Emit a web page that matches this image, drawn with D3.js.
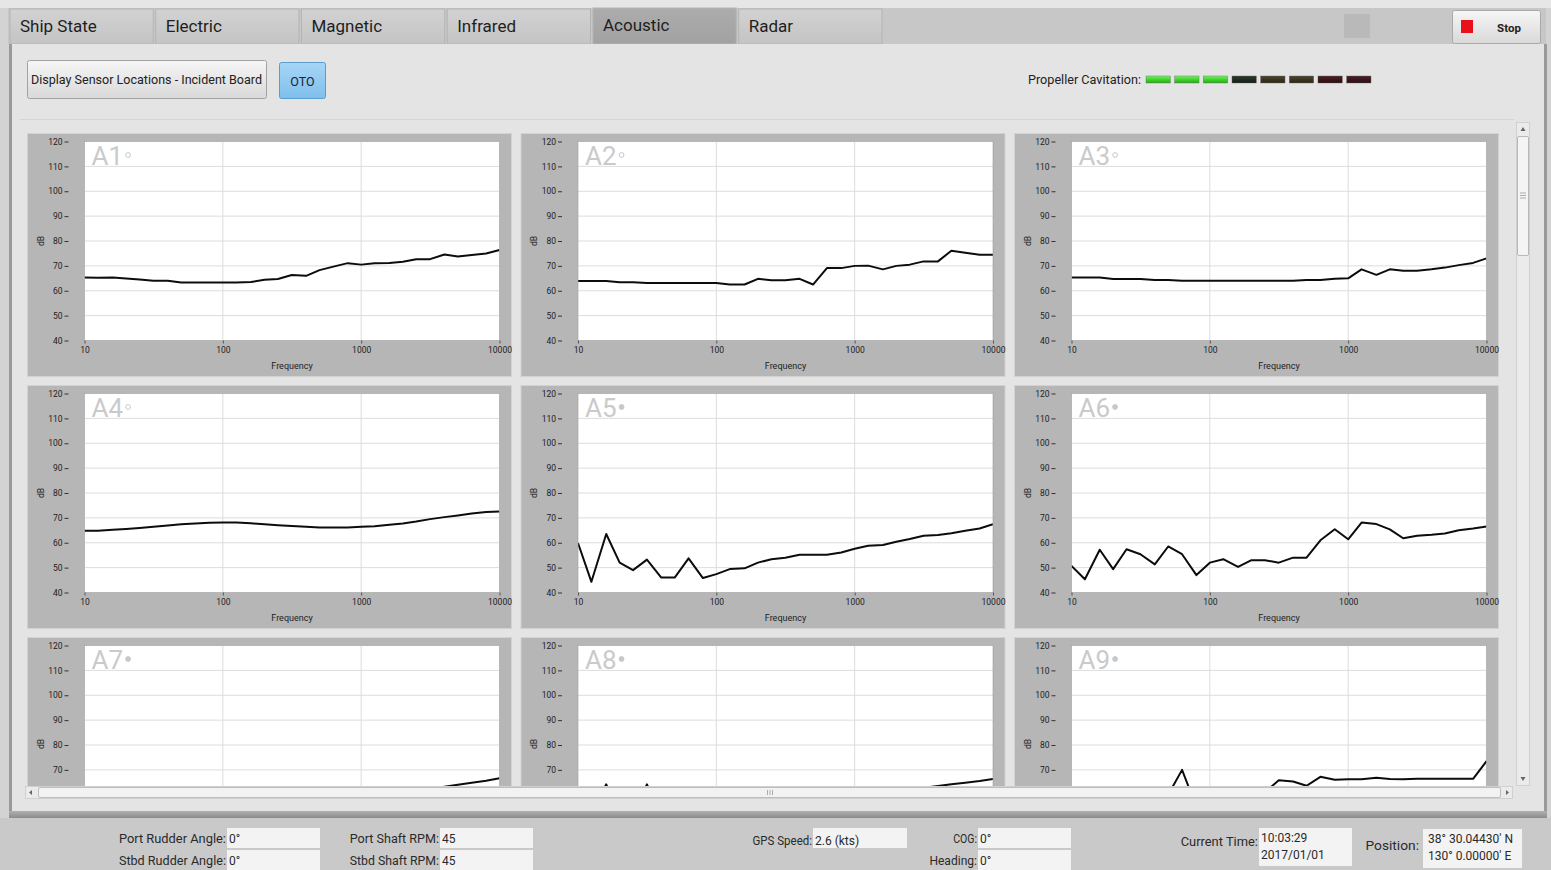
<!DOCTYPE html>
<html><head><meta charset="utf-8">
<script src="https://cdn.jsdelivr.net/npm/d3@7"></script>
<style>
html,body{margin:0;padding:0;background:#d3d3d3;overflow:hidden}
svg{display:block}
text{font-family:Roboto,"Noto Sans",sans-serif}
</style></head><body>
<svg id="ui" width="1551" height="870"></svg>
<script>
// ---------------- DATA ----------------
const bands = [10,12.5,16,20,25,31.5,40,50,63,80,100,125,160,200,250,315,400,500,630,800,1000,1250,1600,2000,2500,3150,4000,5000,6300,8000,10000];
const sensorNames = ["A1","A2","A3","A4","A5","A6","A7","A8","A9"];
const sensorFilled = [false,false,false,false,true,true,true,true,true];
const dbA1 = [65.3,65.2,65.3,64.9,64.5,64,64,63.3,63.3,63.3,63.3,63.3,63.5,64.4,64.7,66.3,66,68.3,69.7,71.1,70.5,71.1,71.2,71.7,72.7,72.7,74.6,73.8,74.4,75,76.4];
const dbA2 = [63.9,63.9,63.9,63.4,63.4,63.1,63.1,63.1,63.1,63.1,63.1,62.5,62.5,64.8,64.2,64.2,64.8,62.5,69.1,69.1,70,70.1,68.6,70,70.5,71.8,71.8,76.1,75.3,74.5,74.5];
const dbA3 = [65.3,65.3,65.3,64.7,64.7,64.7,64.3,64.3,64,64,64,64,64,64,64,64,64,64.3,64.3,64.8,65,68.6,66.4,68.6,68,68,68.6,69.3,70.3,71.2,73];
const dbA4 = [64.8,64.8,65.2,65.5,65.9,66.4,66.9,67.4,67.7,68,68.1,68.1,67.8,67.4,67,66.7,66.4,66.1,66.1,66.1,66.4,66.6,67.2,67.7,68.5,69.5,70.3,71,71.8,72.4,72.6];
const dbA5 = [59.9,44.3,63.5,52,49,53.2,46,46,53.7,45.8,47.4,49.4,49.7,52,53.4,54,55.2,55.2,55.2,56.1,57.6,58.8,59.1,60.4,61.5,62.8,63.1,63.8,64.8,65.7,67.5];
const dbA6 = [50.7,45.3,57.2,49.4,57.4,55.4,51.3,58.5,55.4,47,52,53.4,50.3,53,53,52,54,54,61,65.4,61.4,68.1,67.5,65.4,61.8,62.8,63.2,63.7,65,65.7,66.5];
const dbA7 = [55,52,57,54,53,55,52,53,54,52,53,54,54,55,55,56,56,57,58,58,59,60,60,61,61.5,62.3,63.2,64,64.8,65.6,66.6];
const dbA8 = [55,52,64.2,50,52,64.2,50,52,54,51,52,53,54,55,55,56,56,57,57.5,58,59,59.5,60,60.5,61.5,62.8,63.5,64.2,64.8,65.5,66.3];
const dbA9 = [52,48,55,50,56,54,52,60,70,55,56,57,55,58,61,65.8,65.3,63.6,67.2,66,66.2,66.2,66.8,66.3,66.2,66.4,66.4,66.4,66.4,66.4,73.5];
const sensorData = [dbA1,dbA2,dbA3,dbA4,dbA5,dbA6,dbA7,dbA8,dbA9];
const yTicks = [40,50,60,70,80,90,100,110,120];
const xTicks = [10,100,1000,10000];
const tabNames = ["Ship State","Electric","Magnetic","Infrared","Acoustic","Radar"];
const selectedTab = "Acoustic";
const cavitationStates = ["on","on","on","off","warn","warn","alarm","alarm"];
const statusLabels = ["Port Rudder Angle:","Stbd Rudder Angle:","Port Shaft RPM:","Stbd Shaft RPM:","GPS Speed:","COG:","Heading:","Current Time:","Position:"];
const statusValues = [["0°"],["0°"],["45"],["45"],["2.6  (kts)"],["0°"],["0°"],["10:03:29","2017/01/01"],["38° 30.04430' N","130° 0.00000' E"]];

// ---------------- DRAW ----------------
const svg = d3.select("#ui");
const W = 1551, H = 870;
const defs = svg.append("defs");
function grad(id, stops){
  const g = defs.append("linearGradient").attr("id",id).attr("x1",0).attr("y1",0).attr("x2",0).attr("y2",1);
  stops.forEach(s=>g.append("stop").attr("offset",s[0]).attr("stop-color",s[1]));
}
grad("btn",[[0,"#f6f6f6"],[1,"#d9d9d9"]]);
grad("tab",[[0,"#d2d2d2"],[1,"#c4c4c4"]]);
grad("tabSel",[[0,"#acacac"],[1,"#a2a2a2"]]);
grad("oto",[[0,"#a6d6f6"],[1,"#7fbfec"]]);
grad("ledOn",[[0,"#7af06a"],[0.5,"#3fd42a"],[1,"#2aa81c"]]);
grad("ledOff",[[0,"#2e3a2e"],[1,"#141c14"]]);
grad("ledWarn",[[0,"#4c4430"],[1,"#2c2616"]]);
grad("ledAlarm",[[0,"#4a2228"],[1,"#2a0c10"]]);
grad("shadow",[[0,"#b0b0b0"],[1,"#8c8c8c"]]);

svg.append("rect").attr("width",W).attr("height",H).attr("fill","#d3d3d3");
svg.append("rect").attr("x",0).attr("y",0).attr("width",W).attr("height",8).attr("fill","#e6e6e6");
// tab bar
svg.append("rect").attr("x",8).attr("y",8).attr("width",1538).attr("height",36).attr("fill","#c7c7c7");
const tabX = d3.scaleBand().domain(tabNames).range([10,882]).paddingInner(0.017);
const tabs = svg.append("g").selectAll("g").data(tabNames).join("g");
tabs.append("rect")
  .attr("x",d=>tabX(d)).attr("y",d=>d===selectedTab?8:9)
  .attr("width",tabX.bandwidth()).attr("height",d=>d===selectedTab?36:35)
  .attr("fill",d=>d===selectedTab?"url(#tabSel)":"url(#tab)")
  .attr("stroke","#b4b4b4").attr("stroke-width",1);
tabs.append("text")
  .attr("x",d=>tabX(d)+10).attr("y",d=>d===selectedTab?31:32)
  .attr("font-size",17).attr("fill","#1e1e1e").text(d=>d);
// gray indicator square
svg.append("rect").attr("x",1344).attr("y",14).attr("width",26).attr("height",24).attr("fill","#b9b9b9");
// stop button
svg.append("rect").attr("x",1452.5).attr("y",10.5).attr("width",88).attr("height",33).attr("rx",2)
  .attr("fill","url(#btn)").attr("stroke","#a9a9a9");
svg.append("rect").attr("x",1461).attr("y",20).attr("width",12).attr("height",13).attr("fill","#e8101a");
svg.append("text").attr("x",1509).attr("y",32).attr("text-anchor","middle").attr("font-size",11.5)
  .attr("font-weight","bold").attr("fill","#222").text("Stop");

// main panel
svg.append("rect").attr("x",10).attr("y",44).attr("width",1536).attr("height",770).attr("fill","#e4e4e4");
svg.append("rect").attr("x",9).attr("y",44).attr("width",3).attr("height",772).attr("fill","#9a9a9a");
svg.append("rect").attr("x",1544).attr("y",44).attr("width",3).attr("height",772).attr("fill","#9a9a9a");
svg.append("rect").attr("x",9).attr("y",811).attr("width",1538).attr("height",7).attr("fill","url(#shadow)");

// buttons
svg.append("rect").attr("x",27.5).attr("y",60.5).attr("width",239).attr("height",38).attr("rx",2)
  .attr("fill","url(#btn)").attr("stroke","#a2a2a2");
svg.append("text").attr("x",31).attr("y",84).attr("font-size",13).attr("fill","#222")
  .attr("textLength",231).attr("lengthAdjust","spacingAndGlyphs")
  .text("Display Sensor Locations - Incident Board");
svg.append("rect").attr("x",279.5).attr("y",62.5).attr("width",46).attr("height",36).attr("rx",2)
  .attr("fill","url(#oto)").attr("stroke","#5a9ccc");
svg.append("text").attr("x",302.5).attr("y",86).attr("text-anchor","middle").attr("font-size",12.5)
  .attr("fill","#223").text("OTO");

// propeller cavitation
svg.append("text").attr("x",1141).attr("y",84).attr("text-anchor","end").attr("font-size",12.5)
  .attr("fill","#222").attr("textLength",113).attr("lengthAdjust","spacingAndGlyphs").text("Propeller Cavitation:");
const ledFill = {on:"url(#ledOn)",off:"url(#ledOff)",warn:"url(#ledWarn)",alarm:"url(#ledAlarm)"};
const ledX = d3.scaleBand().domain(d3.range(cavitationStates.length)).range([1146,1371]).paddingInner(0.15);
svg.append("g").selectAll("rect").data(cavitationStates).join("rect")
  .attr("x",(d,i)=>ledX(i)).attr("y",76).attr("width",ledX.bandwidth()).attr("height",7)
  .attr("fill",d=>ledFill[d]).attr("stroke","#666").attr("stroke-width",0.4);

// scroll area
const clipTop = 120, clipBottom = 786;
defs.append("clipPath").attr("id","scrollClip").append("rect")
  .attr("x",20).attr("y",clipTop).attr("width",1494).attr("height",clipBottom-clipTop);
svg.append("line").attr("x1",20).attr("x2",1514).attr("y1",119.5).attr("y2",119.5).attr("stroke","#d4d4d4");
const area = svg.append("g").attr("clip-path","url(#scrollClip)");

const panelW = 484, panelH = 243, colStep = 493.5, rowStep = 252;
const plotOffX = 57.5, plotOffY = 8.5, plotW = 415, plotH = 199;

sensorNames.forEach((name,i)=>{
  const col = i%3, row = Math.floor(i/3);
  const px = 27 + col*colStep, py = 133 + row*rowStep;
  const g = area.append("g");
  g.append("rect").attr("x",px+0.5).attr("y",py+0.5).attr("width",panelW).attr("height",panelH)
    .attr("fill","#b6b6b6").attr("stroke","#d2d2d2");
  const L = px+plotOffX, T = py+plotOffY, R = L+plotW, B = T+plotH;
  const x = d3.scaleLog().domain([10,10000]).range([L,R]);
  const y = d3.scaleLinear().domain([40,120]).range([B,T]);
  g.append("rect").attr("x",L).attr("y",T).attr("width",plotW).attr("height",plotH).attr("fill","#fff");
  // grid
  g.append("g").selectAll("line").data(yTicks.slice(1,-1)).join("line")
    .attr("x1",L).attr("x2",R).attr("y1",d=>y(d)).attr("y2",d=>y(d)).attr("stroke","#dcdcdc");
  g.append("g").selectAll("line").data(xTicks.slice(1,-1)).join("line")
    .attr("y1",T).attr("y2",B).attr("x1",d=>x(d)).attr("x2",d=>x(d)).attr("stroke","#dcdcdc");
  // title
  const t = g.append("text").attr("x",L+7).attr("y",T+23).attr("font-size",26).attr("fill","#cacaca").text(name);
  const tw = t.node().getComputedTextLength();
  g.append("circle").attr("cx",L+7+tw+5).attr("cy",T+13.5).attr("r",2.4)
    .attr("fill",sensorFilled[i]?"#c8c8c8":"none").attr("stroke","#c8c8c8").attr("stroke-width",1);
  // line
  const cid = "pc"+i;
  defs.append("clipPath").attr("id",cid).append("rect").attr("x",L).attr("y",T).attr("width",plotW).attr("height",plotH);
  const line = d3.line().x((d,k)=>x(bands[k])).y(d=>y(d));
  g.append("path").datum(sensorData[i]).attr("d",line).attr("fill","none")
    .attr("stroke","#0c0c0c").attr("stroke-width",2).attr("stroke-linejoin","round")
    .attr("clip-path",`url(#${cid})`);
  g.append("rect").attr("x",L).attr("y",T).attr("width",plotW).attr("height",plotH)
    .attr("fill","none").attr("stroke","#9e9e9e").attr("stroke-width",0.6);
  // axes (only the parts that lie inside the visible scroll window)
  const visTicks = yTicks.filter(v=>y(v) < clipBottom-5);
  const ya = g.append("g").attr("transform",`translate(${L-16},0)`)
    .call(d3.axisLeft(y).tickValues(visTicks).tickSize(4).tickPadding(2));
  ya.select(".domain").remove();
  ya.selectAll("line").attr("stroke","#333");
  ya.selectAll("text").attr("font-size",8.5).attr("fill","#222").style("font-family","Roboto, sans-serif");
  if (B + 32 < clipBottom) {
    const xa = g.append("g").attr("transform",`translate(0,${B})`)
      .call(d3.axisBottom(x).tickValues(xTicks).tickFormat(d3.format("d")).tickSize(3).tickPadding(3));
    xa.select(".domain").remove();
    xa.selectAll("line").attr("stroke","#555");
    xa.selectAll("text").attr("font-size",8.5).attr("fill","#222").style("font-family","Roboto, sans-serif");
    g.append("text").attr("x",(L+R)/2).attr("y",B+28).attr("text-anchor","middle")
      .attr("font-size",9).attr("fill","#222").text("Frequency");
  }
  const dbY = Math.min((T+B)/2, clipBottom-42);
  g.append("text").attr("transform",`translate(${px+14},${dbY}) rotate(-90)`).attr("text-anchor","middle")
    .attr("dy","0.35em").attr("font-size",8.5).attr("fill","#222").text("dB");
});

// vertical scrollbar
svg.append("rect").attr("x",1516.5).attr("y",122.5).attr("width",13).attr("height",663).attr("fill","#ebebeb").attr("stroke","#d0d0d0");
svg.append("rect").attr("x",1517.5).attr("y",136.5).attr("width",11).attr("height",119).attr("rx",1.5).attr("fill","#f4f4f4").attr("stroke","#b8b8b8");
[193,195.5,198].forEach(v=>svg.append("line").attr("x1",1520).attr("x2",1526).attr("y1",v).attr("y2",v).attr("stroke","#999").attr("stroke-width",0.8));
svg.append("path").attr("d","M1520.5,131 L1523,127 L1525.5,131 Z").attr("fill","#666");
svg.append("path").attr("d","M1520.5,777 L1523,781 L1525.5,777 Z").attr("fill","#666");
// horizontal scrollbar
svg.append("rect").attr("x",25.5).attr("y",786.5).attr("width",1487).attr("height",12).attr("fill","#ebebeb").attr("stroke","#d0d0d0");
svg.append("rect").attr("x",38.5).attr("y",787.5).attr("width",1462).attr("height",10).attr("rx",1.5).attr("fill","#f2f2f2").attr("stroke","#bdbdbd");
[767.5,770,772.5].forEach(v=>svg.append("line").attr("x1",v).attr("x2",v).attr("y1",790).attr("y2",795).attr("stroke","#999").attr("stroke-width",0.8));
svg.append("path").attr("d","M32,790 L29,792.5 L32,795 Z").attr("fill","#666");
svg.append("path").attr("d","M1506,790 L1509,792.5 L1506,795 Z").attr("fill","#666");

// status bar
svg.append("rect").attr("x",0).attr("y",818).attr("width",W).attr("height",52).attr("fill","#c9c9c9");
const statusLayout = [
  {lx:226,ly:843,bx:227,by:828,bw:93,bh:20},
  {lx:226,ly:865,bx:227,by:850,bw:93,bh:20},
  {lx:439,ly:843,bx:440,by:828,bw:93,bh:20},
  {lx:439,ly:865,bx:440,by:850,bw:93,bh:20},
  {lx:812,ly:845,bx:813,by:828,bw:94,bh:20},
  {lx:977,ly:843,bx:978,by:828,bw:93,bh:20},
  {lx:977,ly:865,bx:978,by:850,bw:93,bh:20},
  {lx:1258,ly:846,bx:1259,by:828,bw:93,bh:38},
  {lx:1419,ly:850,bx:1423,by:829,bw:99,bh:39}
];
statusLabels.forEach((lab,i)=>{
  const s = statusLayout[i];
  svg.append("rect").attr("x",s.bx).attr("y",s.by).attr("width",s.bw).attr("height",s.bh).attr("fill","#f3f3f3");
  svg.append("text").attr("x",s.lx).attr("y",s.ly).attr("text-anchor","end").attr("font-size",12.5)
    .attr("fill","#2a2a2a").attr("textLength",lab.length*5.95).attr("lengthAdjust","spacingAndGlyphs").text(lab);
  const vals = statusValues[i];
  vals.forEach((v,k)=>{
    const vy = vals.length===1 ? s.ly-0.5 : s.by+14+k*17;
    svg.append("text").attr("x",s.bx+(i===8?5:2)).attr("y",vy).attr("font-size",12)
      .attr("fill","#2a2a2a").text(v);
  });
});
</script>
</body></html>
